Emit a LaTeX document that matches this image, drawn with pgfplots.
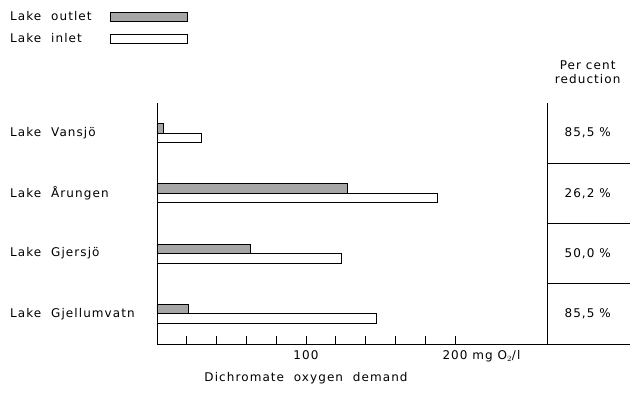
\documentclass[border=0pt]{standalone}
\usepackage{pgfplots}
\pgfplotsset{compat=1.18}
\usepackage{fontspec}
\setmainfont{DejaVu Sans}[LetterSpace=9]
\begin{document}
\fontsize{12pt}{14pt}\selectfont
\begin{tikzpicture}
\useasboundingbox (0,0) rectangle (630pt,396pt);
\begin{axis}[
  at={(157pt,52pt)}, anchor=south west,
  scale only axis, width=473pt, height=241pt,
  xmin=0, xmax=317.4, ymin=-0.5, ymax=3.5,
  axis lines=left, axis line style={-, line width=0.9pt},
  clip=false,
  /pgf/number format/assume math mode=true,
  xtick={20,40,...,200},
  xticklabels={,,,,100,,,,,200\rlap{ mg O$_2$/l}},
  tick align=inside, major tick length=8pt,
  xtick style={line width=0.9pt, black},
  ytick={0,1,2,3},
  yticklabels={Lake\ \ Gjellumvatn, Lake\ \ Gjersjö, Lake\ \ Årungen, Lake\ \ Vansjö},
  ytick style={draw=none},
  yticklabel style={anchor=west, xshift=-151pt},
  xticklabel style={yshift=-2pt},
  legend plot pos=right,
  legend cell align=left,
  legend style={at={(axis description cs:-0.315,1.388)}, anchor=north west, draw=none, fill=none, row sep=7pt, column sep=16pt, inner sep=0pt},
  legend image code/.code={\draw[#1] (0pt,-4.5pt) rectangle (77pt,4.5pt);},
]
\addplot[xbar, bar width=9.5pt, bar shift=4.75pt, fill=black!35, draw=black, line width=0.9pt]
  coordinates {(4,3) (128,2) (63,1) (21,0)};
\addplot[xbar, bar width=9.5pt, bar shift=-4.75pt, fill=white, draw=black, line width=0.9pt]
  coordinates {(30,3) (188,2) (124,1) (147,0)};
\legend{Lake\ \ outlet, Lake\ \ inlet}
\draw[line width=0.9pt] (axis cs:261.7,-0.5) -- (axis cs:261.7,3.5);
\draw[line width=0.9pt] (axis cs:261.7,2.5) -- (axis cs:317.4,2.5);
\draw[line width=0.9pt] (axis cs:261.7,1.5) -- (axis cs:317.4,1.5);
\draw[line width=0.9pt] (axis cs:261.7,0.5) -- (axis cs:317.4,0.5);
\node at (axis cs:289,3) {85,5 \%};
\node at (axis cs:289,2) {26,2 \%};
\node at (axis cs:289,1) {50,0 \%};
\node at (axis cs:289,0) {85,5 \%};
\node[align=center] at (axis cs:289,3.5) [yshift=31pt] {Per cent\\reduction};
\node at (axis cs:100,-0.5) [yshift=-34pt] {Dichromate\ \ oxygen\ \ demand};
\end{axis}
\end{tikzpicture}
\end{document}
